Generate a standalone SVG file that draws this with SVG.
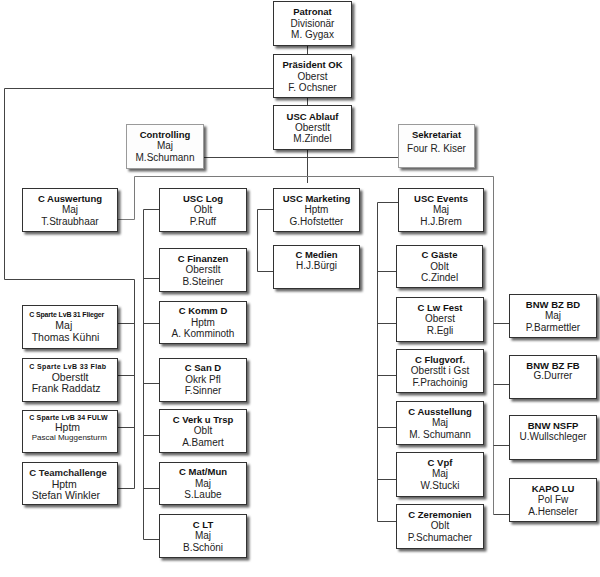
<svg xmlns="http://www.w3.org/2000/svg" width="600" height="577" viewBox="0 0 600 577">
<defs>
<filter id="sh" x="-10%" y="-10%" width="130%" height="140%">
<feDropShadow dx="2.5" dy="2.5" stdDeviation="1.3" flood-color="#000" flood-opacity="0.6"/>
</filter>
<style>
.b{fill:#fff;stroke:#333;stroke-width:1;filter:url(#sh)}
.bl{fill:#fdfdfd;stroke:#9a9a9a;stroke-width:1;filter:url(#sh)}
text{font-family:"Liberation Sans",Arial,Helvetica,sans-serif;fill:#222}
.t{font-weight:bold;font-size:9.5px;text-anchor:middle;fill:#111}
.r{font-size:10px;text-anchor:middle}
.s{font-weight:bold;font-size:7px;fill:#111}
.m{font-size:10.5px}
.c{fill:none;stroke:#444;stroke-width:1}
.cl{fill:none;stroke:#7a7a7a;stroke-width:1}
</style>
</defs>
<rect width="600" height="577" fill="#fff"/>

<g id="connectors">
<path class="c" d="M307.5 45V54M307.5 97V105M307.5 149V183"/>
<path class="c" d="M273 88.5H4.5V279.5H134.5V488.5M117 323.5H134.5M117 375.5H134.5M117 427.5H134.5M117 488.5H134.5"/>
<path class="c" d="M203 157.5H398"/>
<path class="cl" d="M117 219.5H134.5V176.5H493.5V514.5"/>
<path class="c" d="M493.5 323.5H509M493.5 384.5H509M493.5 445.5H509M493.5 514.5H509"/>
<path class="c" d="M159 209.5H143.5V539.5H159M143.5 278.5H159M143.5 323.5H159M143.5 383.5H159M143.5 435.5H159M143.5 488.5H159"/>
<path class="c" d="M273 209.5H257.5V271.5H273"/>
<path class="c" d="M398 202.5H377.5V521.5H396M377.5 271.5H396M377.5 323.5H396M377.5 375.5H396M377.5 427.5H396M377.5 479.5H396"/>
</g>

<g id="patronat"><rect class="b" x="273.5" y="1.5" width="78" height="44"/><text class="t" x="312.5" y="15">Patronat</text><text class="r" x="312.5" y="26.5">Divisionär</text><text class="r" x="312.5" y="38">M. Gygax</text></g>
<g id="praesident"><rect class="b" x="273.5" y="54.5" width="78" height="43"/><text class="t" x="312.5" y="68">Präsident OK</text><text class="r" x="312.5" y="79.5">Oberst</text><text class="r" x="312.5" y="91">F. Ochsner</text></g>
<g id="ablauf"><rect class="b" x="273.5" y="105.5" width="78" height="44"/><text class="t" x="312.5" y="119.5">USC Ablauf</text><text class="r" x="312.5" y="130.5">Oberstlt</text><text class="r" x="312.5" y="141.5">M.Zindel</text></g>
<g id="controlling"><rect class="bl" x="126.5" y="124.5" width="77" height="44"/><text class="t" x="165" y="137.5">Controlling</text><text class="r" x="165" y="149">Maj</text><text class="r" x="165" y="160.5">M.Schumann</text></g>
<g id="sekretariat"><rect class="bl" x="398.5" y="124.5" width="76" height="43"/><text class="t" x="436.5" y="137.5">Sekretariat</text><text class="r" x="436.5" y="151.5">Four R. Kiser</text></g>

<g id="auswertung"><rect class="b" x="22.5" y="188.5" width="95" height="43"/><text class="t" x="70" y="201.5">C Auswertung</text><text class="r" x="70" y="213">Maj</text><text class="r" x="70" y="224.5">T.Straubhaar</text></g>

<g id="sparte31"><rect class="b" x="22.5" y="305.5" width="95" height="43"/><text class="s" x="29.3" y="316.5" textLength="75">C Sparte LvB 31 Flieger</text><text class="m" x="55.3" y="328.5">Maj</text><text class="m" x="31.7" y="340.5">Thomas Kühni</text></g>
<g id="sparte33"><rect class="b" x="22.5" y="358.5" width="95" height="43"/><text class="s" x="29.3" y="368.5" textLength="76.7">C Sparte LvB 33 Flab</text><text class="m" x="51.7" y="380.5">Oberstlt</text><text class="m" x="31.7" y="391.5">Frank Raddatz</text></g>
<g id="sparte34"><rect class="b" x="22.5" y="410.5" width="95" height="42"/><text class="s" x="29.3" y="420" textLength="78.3">C Sparte LvB 34 FULW</text><text class="m" x="55" y="431">Hptm</text><text x="31.7" y="440" font-size="8">Pascal Muggensturm</text></g>
<g id="teamchallenge"><rect class="b" x="22.5" y="462.5" width="95" height="42"/><text x="29.3" y="475.5" font-size="9.5" font-weight="bold" fill="#111">C Teamchallenge</text><text class="m" x="51.7" y="487.5">Hptm</text><text class="m" x="31.7" y="499">Stefan Winkler</text></g>

<g id="usclog"><rect class="b" x="159.5" y="188.5" width="87" height="43"/><text class="t" x="203" y="201.5">USC Log</text><text class="r" x="203" y="213">Oblt</text><text class="r" x="203" y="224.5">P.Ruff</text></g>
<g id="finanzen"><rect class="b" x="159.5" y="248.5" width="87" height="43"/><text class="t" x="203" y="261.5">C Finanzen</text><text class="r" x="203" y="273">Oberstlt</text><text class="r" x="203" y="284.5">B.Steiner</text></g>
<g id="kommd"><rect class="b" x="159.5" y="301.5" width="87" height="42"/><text class="t" x="203" y="313.5">C Komm D</text><text class="r" x="203" y="325.5">Hptm</text><text class="r" x="203" y="336.5">A. Komminoth</text></g>
<g id="sand"><rect class="b" x="159.5" y="358.5" width="87" height="43"/><text class="t" x="203" y="371">C San D</text><text class="r" x="203" y="382.5">Okrk Pfl</text><text class="r" x="203" y="394">F.Sinner</text></g>
<g id="verk"><rect class="b" x="159.5" y="409.5" width="87" height="43"/><text class="t" x="203" y="422.5">C Verk u Trsp</text><text class="r" x="203" y="434">Oblt</text><text class="r" x="203" y="445.5">A.Bamert</text></g>
<g id="matmun"><rect class="b" x="159.5" y="462.5" width="87" height="42"/><text class="t" x="203" y="475">C Mat/Mun</text><text class="r" x="203" y="486.5">Maj</text><text class="r" x="203" y="498">S.Laube</text></g>
<g id="lt"><rect class="b" x="159.5" y="514.5" width="87" height="43"/><text class="t" x="203" y="527.5">C LT</text><text class="r" x="203" y="539">Maj</text><text class="r" x="203" y="550.5">B.Schöni</text></g>

<g id="marketing"><rect class="b" x="273.5" y="188.5" width="86" height="43"/><text class="t" x="316.5" y="201.5">USC Marketing</text><text class="r" x="316.5" y="213">Hptm</text><text class="r" x="316.5" y="224.5">G.Hofstetter</text></g>
<g id="medien"><rect class="b" x="273.5" y="245.5" width="86" height="43"/><text class="t" x="316.5" y="258">C Medien</text><text class="r" x="316.5" y="269">H.J.Bürgi</text></g>

<g id="events"><rect class="b" x="398.5" y="188.5" width="85" height="43"/><text class="t" x="441" y="201.5">USC Events</text><text class="r" x="441" y="213">Maj</text><text class="r" x="441" y="224.5">H.J.Brem</text></g>
<g id="gaeste"><rect class="b" x="396.5" y="245.5" width="86" height="42"/><text class="t" x="439.5" y="258">C Gäste</text><text class="r" x="439.5" y="269.5">Oblt</text><text class="r" x="439.5" y="281">C.Zindel</text></g>
<g id="lwfest"><rect class="b" x="396.5" y="297.5" width="87" height="44"/><text class="t" x="440" y="310.5">C Lw Fest</text><text class="r" x="440" y="322">Oberst</text><text class="r" x="440" y="333.5">R.Egli</text></g>
<g id="flugvorf"><rect class="b" x="396.5" y="349.5" width="87" height="43"/><text class="t" x="440" y="362.5">C Flugvorf.</text><text class="r" x="440" y="374">Oberstlt i Gst</text><text class="r" x="440" y="385.5">F.Prachoinig</text></g>
<g id="ausstellung"><rect class="b" x="396.5" y="401.5" width="87" height="43"/><text class="t" x="440" y="414.5">C Ausstellung</text><text class="r" x="440" y="426">Maj</text><text class="r" x="440" y="437.5">M. Schumann</text></g>
<g id="vpf"><rect class="b" x="396.5" y="452.5" width="87" height="44"/><text class="t" x="440" y="465.5">C Vpf</text><text class="r" x="440" y="477">Maj</text><text class="r" x="440" y="488.5">W.Stucki</text></g>
<g id="zeremonien"><rect class="b" x="396.5" y="504.5" width="87" height="44"/><text class="t" x="440" y="517.5">C Zeremonien</text><text class="r" x="440" y="529">Oblt</text><text class="r" x="440" y="540.5">P.Schumacher</text></g>

<g id="bnwbd"><rect class="b" x="509.5" y="294.5" width="87" height="43"/><text class="t" x="553" y="307.5">BNW BZ BD</text><text class="r" x="553" y="319">Maj</text><text class="r" x="553" y="330.5">P.Barmettler</text></g>
<g id="bnwfb"><rect class="b" x="509.5" y="355.5" width="87" height="43"/><text class="t" x="553" y="368.5">BNW BZ FB</text><text class="r" x="553" y="379">G.Durrer</text></g>
<g id="bnwnsfp"><rect class="b" x="509.5" y="415.5" width="87" height="44"/><text class="t" x="553" y="428.5">BNW NSFP</text><text class="r" x="553" y="439.5">U.Wullschleger</text></g>
<g id="kapo"><rect class="b" x="509.5" y="478.5" width="87" height="43"/><text class="t" x="553" y="491.5">KAPO LU</text><text class="r" x="553" y="503">Pol Fw</text><text class="r" x="553" y="514.5">A.Henseler</text></g>
</svg>
